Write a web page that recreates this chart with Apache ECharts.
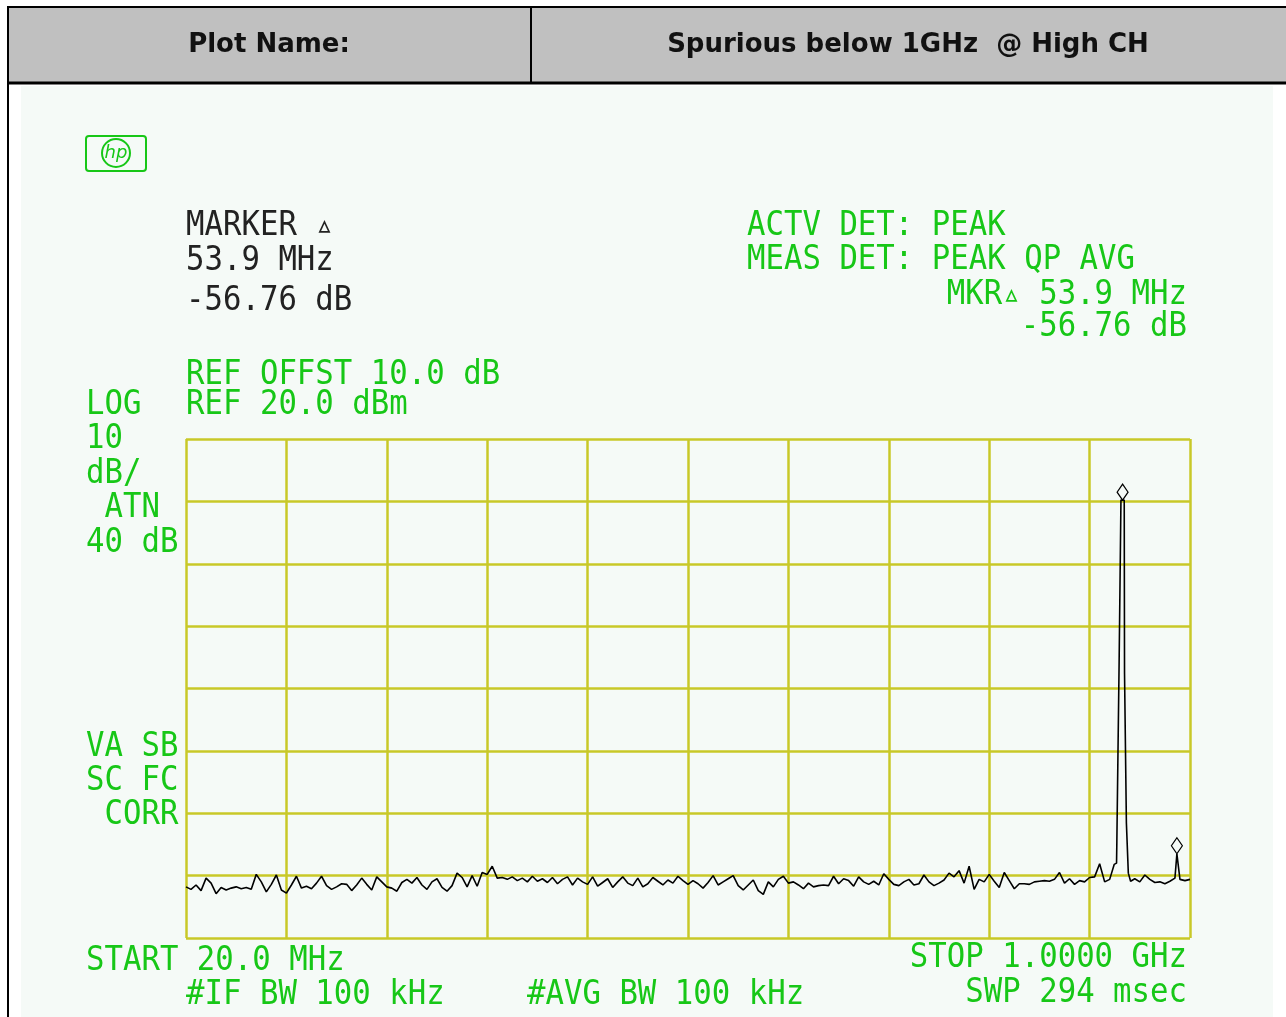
<!DOCTYPE html>
<html>
<head>
<meta charset="utf-8">
<title>Spurious below 1GHz @ High CH</title>
<script src="https://cdn.jsdelivr.net/npm/echarts@6/dist/echarts.min.js"></script>
<style>
  html, body { margin: 0; padding: 0; background: #fff; }
  #chart { width: 1286px; height: 1017px; }
</style>
</head>
<body>
<div id="chart"></div>
<script>
// sweep: 20 MHz .. 1000 MHz, one noise reading every 4.9 MHz (dBm)
var startMHz = 20;
var stopMHz = 1000;
var stepMHz = 4.9;
var noiseDbm = [
  -51.8, -52.2, -51.5, -52.4, -50.4, -51.2, -52.9, -51.9, -52.3, -52.0, -51.8, -52.1, -51.9, -52.2, -49.8, -51.0, -52.6, -51.4, -49.9, -52.3, -52.8,
  -51.5, -50.1, -52.0, -51.7, -52.1, -51.2, -50.1, -51.6, -52.2, -51.8, -51.3, -51.4, -52.4, -51.5, -50.4, -51.4, -52.3, -50.2, -51.0, -51.8,
  -52.0, -52.5, -51.1, -50.6, -51.2, -50.3, -51.5, -52.2, -51.0, -50.5, -51.9, -52.5, -51.6, -49.6, -50.3, -51.8, -50.0, -51.7, -49.5, -49.8,
  -48.5, -50.4, -50.3, -50.6, -50.2, -50.8, -50.4, -51.0, -50.1, -50.9, -50.5, -51.1, -50.3, -51.3, -50.6, -50.2, -51.5, -50.4, -51.0, -51.4,
  -50.2, -51.7, -51.1, -50.5, -51.9, -51.0, -50.2, -51.2, -51.6, -50.4, -51.8, -51.3, -50.3, -50.9, -51.5, -50.7, -51.2, -50.1, -50.8, -51.4,
  -50.8, -51.3, -52.0, -51.1, -50.0, -51.5, -51.0, -50.5, -50.0, -51.6, -52.3, -51.5, -50.7, -52.4, -53.0, -51.0, -51.8, -50.6, -50.1, -51.2,
  -51.0, -51.5, -52.1, -51.2, -51.8, -51.6, -51.5, -51.6, -50.1, -51.3, -50.5, -50.8, -51.7, -50.2, -51.0, -51.4, -50.9, -51.5, -49.7, -50.6,
  -51.4, -51.6, -51.0, -50.6, -51.5, -51.3, -49.9, -51.0, -51.6, -51.2, -50.7, -49.6, -50.2, -49.2, -51.2, -48.5, -52.2, -50.6, -51.0, -49.8,
  -50.9, -51.9, -49.5, -50.8, -52.1, -51.3, -51.3, -51.4, -51.0, -50.9, -50.8, -50.9, -50.6, -49.5, -51.2, -50.5, -51.4, -50.8, -51.0, -50.3,
  -50.2, -48.1, -51.0, -50.6, null, null, null, null, -50.5, -51.0, -49.9, -50.6, -51.1, -51.0, -51.3, -50.9, -50.4, -50.6, -50.8, -50.6
];
// carrier around 933 MHz (replaces the null readings above)
var peakMHz = [926.0, 928.3, 928.6, 930.5, 930.8, 932.3, 932.6, 935.8, 936.1, 937.6, 937.9, 939.4, 939.8, 942.0];
var peakDbm = [-48.2, -48.0, -44.6, -44.6, -16.0, -16.0, 10.2, 10.2, -17.6, -17.6, -41.5, -41.5, -49.6, -50.9];
// small spur at marker delta
var spurMHz = [987.2];
var spurDbm = [-46.5];
// the two marker diamonds
var markerMHz = [934.2, 987.2];
var markerDbm = [10.2, -46.5];

var green = '#17c717';
var ink = '#222';
var gridColor = '#c8c828';
var panelBg = '#f5faf7';

// build the trace in frequency order
var trace = [];
for (var i = 0; i < noiseDbm.length; i++) {
  if (noiseDbm[i] !== null) trace.push([startMHz + stepMHz * i, noiseDbm[i]]);
}
for (var j = 0; j < peakMHz.length; j++) trace.push([peakMHz[j], peakDbm[j]]);
for (var s = 0; s < spurMHz.length; s++) trace.push([spurMHz[s], spurDbm[s]]);
trace.sort(function (a, b) { return a[0] - b[0]; });

var markers = [];
for (var m = 0; m < markerMHz.length; m++) markers.push({ coord: [markerMHz[m], markerDbm[m]] });

// analyzer style text
function txt(s, x, y, color, align) {
  return {
    type: 'text', x: x, y: y, scaleX: 0.93, z: 50,
    style: {
      text: s, fill: color, font: '33px "DejaVu Sans Mono"',
      textAlign: align || 'left', textVerticalAlign: 'middle'
    }
  };
}

var graphics = [
  // plot panel + header table
  { type: 'rect', z: 0, shape: { x: 21, y: 86, width: 1252, height: 931 }, style: { fill: panelBg } },
  { type: 'rect', z: 0, shape: { x: 7, y: 6, width: 1279, height: 77 }, style: { fill: '#c0c0c0' } },
  { type: 'line', z: 1, shape: { x1: 7, y1: 7, x2: 1286, y2: 7 }, style: { stroke: '#000', lineWidth: 2 } },
  { type: 'line', z: 1, shape: { x1: 7, y1: 83, x2: 1286, y2: 83 }, style: { stroke: '#000', lineWidth: 3 } },
  { type: 'line', z: 1, shape: { x1: 8, y1: 6, x2: 8, y2: 1017 }, style: { stroke: '#000', lineWidth: 2 } },
  { type: 'line', z: 1, shape: { x1: 531, y1: 6, x2: 531, y2: 83 }, style: { stroke: '#000', lineWidth: 2 } },
  { type: 'text', z: 2, x: 269, y: 45, style: { text: 'Plot Name:', fill: '#111', font: 'bold 26px "DejaVu Sans"', textAlign: 'center', textVerticalAlign: 'middle' } },
  { type: 'text', z: 2, x: 908, y: 45, style: { text: 'Spurious below 1GHz  @ High CH', fill: '#111', font: 'bold 26px "DejaVu Sans"', textAlign: 'center', textVerticalAlign: 'middle' } },
  // hp logo
  { type: 'rect', z: 5, shape: { x: 86, y: 136, width: 60, height: 35, r: 3 }, style: { fill: 'none', stroke: green, lineWidth: 2 } },
  { type: 'circle', z: 5, shape: { cx: 116, cy: 153, r: 14 }, style: { fill: 'none', stroke: green, lineWidth: 2 } },
  { type: 'text', z: 5, x: 116, y: 153, style: { text: 'hp', fill: green, font: 'italic 18px "DejaVu Sans"', textAlign: 'center', textVerticalAlign: 'middle' } },

  txt('MARKER \u25b5', 186, 226, ink),
  txt('53.9 MHz', 186, 261, ink),
  txt('-56.76 dB', 186, 301, ink),
  txt('ACTV DET: PEAK', 747, 226, green),
  txt('MEAS DET: PEAK QP AVG', 747, 260, green),
  txt('MKR\u25b5 53.9 MHz', 1187, 295, green, 'right'),
  txt('-56.76 dB', 1187, 327, green, 'right'),
  txt('REF OFFST 10.0 dB', 186, 375, green),
  txt('REF 20.0 dBm', 186, 405, green),
  txt('LOG', 86, 405, green),
  txt('10', 86, 439, green),
  txt('dB/', 86, 474, green),
  txt(' ATN', 86, 508, green),
  txt('40 dB', 86, 543, green),
  txt('VA SB', 86, 747, green),
  txt('SC FC', 86, 781, green),
  txt(' CORR', 86, 815, green),
  txt('START 20.0 MHz', 86, 961, green),
  txt('#IF BW 100 kHz', 186, 995, green),
  txt('#AVG BW 100 kHz', 527, 995, green),
  txt('STOP 1.0000 GHz', 1187, 958, green, 'right'),
  txt('SWP 294 msec', 1187, 993, green, 'right')
];

var option = {
  backgroundColor: '#fff',
  animation: false,
  grid: {
    left: 186, top: 439, right: 96, bottom: 79,
    show: true, borderColor: gridColor, borderWidth: 2.5, backgroundColor: 'transparent'
  },
  xAxis: [
    { type: 'value', min: startMHz, max: stopMHz, show: false },
    // 10 divisions for the graticule
    {
      type: 'value', min: 0, max: 10, interval: 1, position: 'top',
      axisLine: { show: false }, axisTick: { show: false }, axisLabel: { show: false },
      splitLine: { show: true, lineStyle: { color: gridColor, width: 2.5 } }
    }
  ],
  yAxis: {
    type: 'value', min: -60, max: 20, interval: 10,
    axisLine: { show: false }, axisTick: { show: false }, axisLabel: { show: false },
    splitLine: { show: true, lineStyle: { color: gridColor, width: 2.5 } }
  },
  graphic: graphics,
  series: [{
    type: 'line',
    xAxisIndex: 0,
    data: trace,
    showSymbol: false,
    lineStyle: { color: '#000', width: 1.6 },
    markPoint: {
      symbol: 'diamond',
      symbolSize: [11, 16],
      symbolOffset: [0, -8],
      itemStyle: { color: panelBg, borderColor: '#000', borderWidth: 1.2 },
      label: { show: false },
      data: markers
    }
  }]
};

echarts.init(document.getElementById('chart')).setOption(option);
</script>
</body>
</html>
